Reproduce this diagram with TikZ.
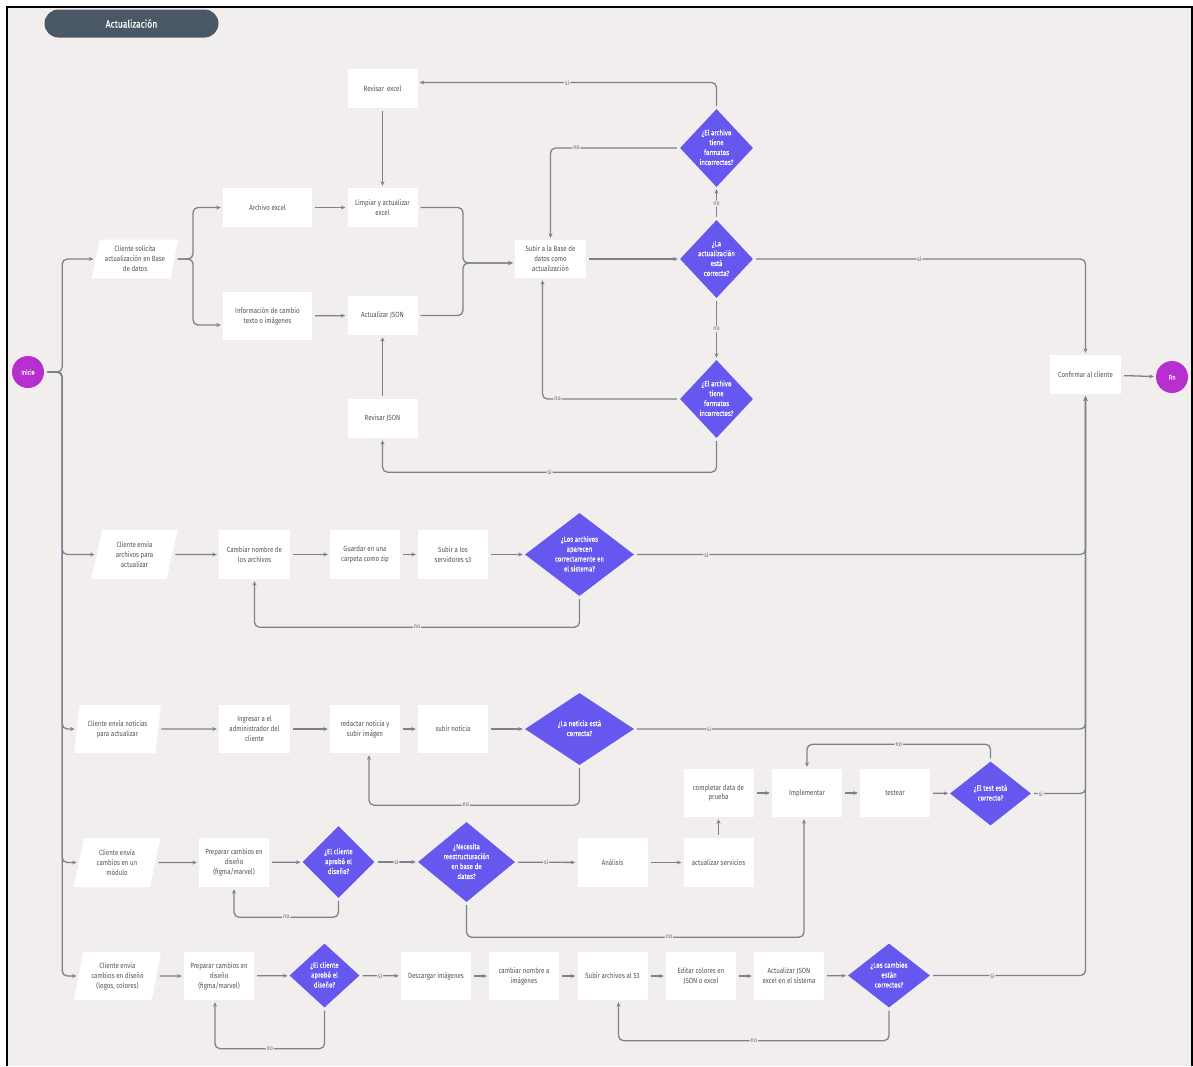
\documentclass[tikz,border=0pt]{standalone}
\usepackage{fontspec}
\setmainfont[FakeStretch=0.82]{Fira Sans}
\newfontfamily\dfont[FakeStretch=0.82,FakeBold=0.4]{Fira Sans}
\usetikzlibrary{shapes.geometric,arrows.meta,calc}

\definecolor{bgc}{RGB}{243,238,238}
\definecolor{linec}{RGB}{122,131,141}
\definecolor{txtc}{RGB}{80,85,92}
\definecolor{decc}{RGB}{102,88,238}
\definecolor{termc}{RGB}{183,47,206}
\definecolor{headc}{RGB}{74,88,101}

\newcommand\boxfont{\fontsize{7.5}{9.9}\selectfont}
\newcommand\lblfont{\fontsize{6.5}{7}\selectfont}
% centred multi-line text that does not enlarge its shape
\newcommand\ctrtext[1]{\makebox[0pt]{\smash{\raisebox{-0.25em}{\begin{tabular}{@{}c@{}}#1\end{tabular}}}}}

\tikzset{
  proc/.style={rectangle, fill=white, text=txtc, font=\boxfont, align=center,
    inner sep=1pt, minimum width=70pt, minimum height=48pt},
  para/.style={trapezium, trapezium left angle=76, trapezium right angle=104,
    trapezium stretches=true, fill=white, text=txtc, font=\boxfont, align=center,
    inner sep=0pt, minimum width=87pt, minimum height=48pt},
  decis/.style={diamond, fill=decc, text=white, font=\dfont\boxfont,
    inner sep=0pt, minimum width=72pt, minimum height=72pt},
  term/.style={circle, fill=termc, text=white,
    font=\dfont\fontsize{6.5}{7}\selectfont, minimum size=32pt, inner sep=0pt},
  conn/.style={draw=linec, line width=1.3pt, rounded corners=5pt,
    -{Stealth[length=4.5pt,width=4pt]}, shorten >=2pt, shorten <=3pt},
  lbl/.style={fill=bgc, text=linec!80!black, font=\lblfont, inner sep=1pt},
  header/.style={fill=headc, rounded corners=14pt, minimum width=174pt,
    minimum height=28pt, text=white, font=\dfont\fontsize{10.5}{12}\selectfont}
}

\begin{document}
\begin{tikzpicture}[x=1pt,y=-1pt]
\useasboundingbox (0,0) rectangle (1193,1066);
% page and frame
\fill[white] (0,0) rectangle (1193,1066);
\fill[bgc] (7,7) rectangle (1193,1066);
\draw[black, line width=2pt] (7,1066) -- (7,7) -- (1192,7) -- (1192,1066);

\node[header] (title) at (131.5,23.5) {Actualización};

% terminals and final step
\node[term] (inicio) at (28,372) {Inicio};
\node[term] (fin) at (1172,377) {Fin};
\node[proc, minimum width=71pt, minimum height=39pt] (confirm) at (1085.5,374.5) {Confirmar al cliente};

% ---------- database update ----------
\node[para, minimum height=39pt] (p1) at (135,259) {Cliente solicita\\actualización en Base\\de datos};
\node[proc, minimum width=89pt, minimum height=39pt] (archivo) at (267.5,207.5) {Archivo excel};
\node[proc, minimum width=89pt] (info) at (267.5,316) {Información de cambio\\texto o imágenes};
\node[proc, minimum height=39pt] (rexcel) at (382.5,88.5) {Revisar\ \ excel};
\node[proc, minimum height=39pt] (limpiar) at (382.5,207.5) {Limpiar y actualizar\\excel};
\node[proc, minimum height=39pt] (ajson) at (382.5,315.5) {Actualizar JSON};
\node[proc, minimum height=39pt] (rjson) at (382.5,418.5) {Revisar JSON};
\node[proc, minimum width=71pt, minimum height=38pt] (subir) at (550.5,259) {Subir a la Base de\\datos como\\actualización};
\node[decis, minimum width=73pt, minimum height=78pt] (d1) at (716.5,148) {\ctrtext{¿El archivo\\tiene\\formatos\\incorrectos?}};
\node[decis, minimum width=73pt, minimum height=78pt] (d2) at (716.5,259) {\ctrtext{¿La\\actualización\\está\\correcta?}};
\node[decis, minimum width=73pt, minimum height=78pt] (d3) at (716.5,399) {\ctrtext{¿El archivo\\tiene\\formatos\\incorrectos?}};

\draw[conn] (inicio.east) -- ++(18,0) |- (p1.west);
\coordinate (j1) at (193,259);
\draw[conn] (p1.east) -- (j1) |- (archivo.west);
\draw[conn] (p1.east) -- (j1) |- ([yshift=-9pt]info.west);
\draw[conn] (archivo) -- (limpiar);
\draw[conn] (info) -- (ajson);
\draw[conn] (rexcel) -- (limpiar);
\draw[conn] (rjson) -- (ajson);
\coordinate (j2) at (463,263);
\draw[conn] (limpiar.east) -| (j2) -- (subir.west |- j2);
\draw[conn] (ajson.east) -| (j2) -- (subir.west |- j2);
\draw[conn] (subir) -- (d2);
\draw[conn] (d2) -- node[lbl] (n1) {no} (d1);
\draw[conn] (d2) -- node[lbl] (n2) {no} (d3);
\draw[conn] (d2.east) -| node[lbl, pos=0.25] (s1) {si} (confirm.north);
\draw[conn] (d1.north) |- node[lbl, pos=0.75] (s2) {si} ([yshift=6pt]rexcel.east);
\draw[conn] (d1.west) -| node[lbl, pos=0.4] (n3) {no} (subir.north);
\draw[conn] (d3.west) -| node[lbl, pos=0.445] (n4) {no} ([xshift=-8pt]subir.south);
\draw[conn] (d3.south) -- ++(0,34) -| node[lbl, pos=0.25] (s3) {si} (rjson.south);

% ---------- file upload ----------
\node[para, minimum height=49pt] (p2) at (134.5,554.5) {Cliente envía\\archivos para\\actualizar};
\node[proc, minimum width=71pt, minimum height=49pt] (cambiar) at (254.5,554.5) {Cambiar nombre de\\los archivos};
\node[proc, minimum height=49pt] (guardar) at (365,554.5) {Guardar en una\\carpeta como zip};
\node[proc, minimum height=49pt] (s3) at (453,554.5) {Subir a los\\servidores s3};
\node[decis, minimum width=109pt, minimum height=83pt] (dr2) at (579.5,554.5) {\ctrtext{¿Los archivos\\aparecen\\correctamente en\\el sistema?}};

\draw[conn] (inicio.east) -- ++(18,0) |- (p2.west);
\draw[conn] (p2) -- (cambiar);
\draw[conn] (cambiar) -- (guardar);
\draw[conn] (guardar) -- (s3);
\draw[conn] (s3) -- (dr2);
\draw[conn] (dr2.east) -| node[lbl, pos=0.08] (s4) {si} (confirm.south);
\draw[conn] (dr2.south) -- ++(0,31) -| node[lbl, pos=0.25] (n5) {no} (cambiar.south);

% ---------- news ----------
\node[para] (p3) at (117.5,729) {Cliente envía noticias\\para actualizar};
\node[proc, minimum width=71pt] (ingresar) at (254.5,729) {Ingresar a el\\administrador del\\cliente};
\node[proc] (redactar) at (365,729) {redactar noticia y\\subir imágen};
\node[proc] (subirnot) at (453,729) {subir noticia};
\node[decis, minimum width=109pt, minimum height=72pt] (dr3) at (579.5,729) {\ctrtext{¿La noticia está\\correcta?}};

\draw[conn] (inicio.east) -- ++(18,0) |- (p3.west);
\draw[conn] (p3) -- (ingresar);
\draw[conn] (ingresar) -- (redactar);
\draw[conn] (redactar) -- (subirnot);
\draw[conn] (subirnot) -- (dr3);
\draw[conn] (dr3.east) -| node[lbl, pos=0.083] (s5) {si} (confirm.south);
\draw[conn] (dr3.south) -- ++(0,40) -| node[lbl, pos=0.27] (n6) {no} ([xshift=4pt]redactar.south);

% ---------- module changes ----------
\node[para, minimum height=49pt] (p4) at (117,862.5) {Cliente envía\\cambios en un\\módulo};
\node[proc, minimum height=49pt] (prep4) at (234,862.5) {Preparar cambios en\\diseño\\(figma/marvel)};
\node[decis] (dap4) at (338.5,862) {\ctrtext{¿El cliente\\aprobó el\\diseño?}};
\node[decis, minimum width=97pt, minimum height=80pt] (dnec) at (466.5,862) {\ctrtext{¿Necesita\\reestructuración\\en base de\\datos?}};
\node[proc, minimum height=49pt] (analisis) at (612.5,862.5) {Análisis};
\node[proc, minimum height=49pt] (actserv) at (718.5,862.5) {actualizar servicios};
\node[proc] (completar) at (718.5,793) {completar data de\\prueba};
\node[proc] (implementar) at (807,793) {Implementar};
\node[proc] (testear) at (895,793) {testear};
\node[decis, minimum width=81pt, minimum height=64pt] (dtest) at (990.5,793.5) {\ctrtext{¿El test está\\correcto?}};

\draw[conn] (inicio.east) -- ++(18,0) |- (p4.west);
\draw[conn] (p4) -- (prep4);
\draw[conn] (prep4) -- (dap4);
\draw[conn] (dap4) -- node[lbl] (s6) {si} (dnec);
\draw[conn] (dnec) -- node[lbl] (s7) {si} (analisis);
\draw[conn] (analisis) -- (actserv);
\draw[conn] (actserv) -- (completar);
\draw[conn] (completar) -- (implementar);
\draw[conn] (implementar) -- (testear);
\draw[conn] (testear) -- (dtest);
\draw[conn] (dtest.east) -| node[lbl, pos=0.09] (s8) {si} (confirm.south);
\draw[conn] (dtest.north) -- ++(0,-17) -| node[lbl, pos=0.25] (n7) {no} (implementar.north);
\draw[conn] (dap4.south) -- ++(0,19) -| node[lbl, pos=0.25] (n8) {no} (prep4.south);
\draw[conn] (dnec.south) -- ++(0,35) -| node[lbl, pos=0.3] (n9) {no} ([xshift=-3pt]implementar.south);

% ---------- design changes ----------
\node[para] (p5) at (117.5,976) {Cliente envía\\cambios en diseño\\(logos, colores)};
\node[proc] (prep5) at (219,976) {Preparar cambios en\\diseño\\(figma/marvel)};
\node[decis, minimum width=70pt, minimum height=64pt] (dap5) at (324.5,975.5) {\ctrtext{¿El cliente\\aprobó el\\diseño?}};
\node[proc] (descargar) at (436,976) {Descargar imágenes};
\node[proc] (cambnom) at (524,976) {cambiar nombre a\\imágenes};
\node[proc] (subirs3) at (612.5,976) {Subir archivos al S3};
\node[proc] (editar) at (701,976) {Editar colores en\\JSON o excel};
\node[proc] (actjson) at (789,976) {Actualizar JSON\\excel en el sistema};
\node[decis, minimum width=82pt, minimum height=64pt] (dcamb) at (889,975.5) {\ctrtext{¿Los cambios\\están\\correctos?}};

\draw[conn] (inicio.east) -- ++(18,0) |- (p5.west);
\draw[conn] (p5) -- (prep5);
\draw[conn] (prep5) -- (dap5);
\draw[conn] (dap5) -- node[lbl] (s9) {si} (descargar);
\draw[conn] (descargar) -- (cambnom);
\draw[conn] (cambnom) -- (subirs3);
\draw[conn] (subirs3) -- (editar);
\draw[conn] (editar) -- (actjson);
\draw[conn] (actjson) -- (dcamb);
\draw[conn] (dcamb.east) -| node[lbl, pos=0.2] (s10) {si} (confirm.south);
\draw[conn] (dap5.south) -- ++(0,41) -| node[lbl, pos=0.25] (n10) {no} ([xshift=-4pt]prep5.south);
\draw[conn] (dcamb.south) -- ++(0,33) -| node[lbl, pos=0.25] (n11) {no} ([xshift=6pt]subirs3.south);

\draw[conn] (confirm) -- (fin);
\end{tikzpicture}
\end{document}
